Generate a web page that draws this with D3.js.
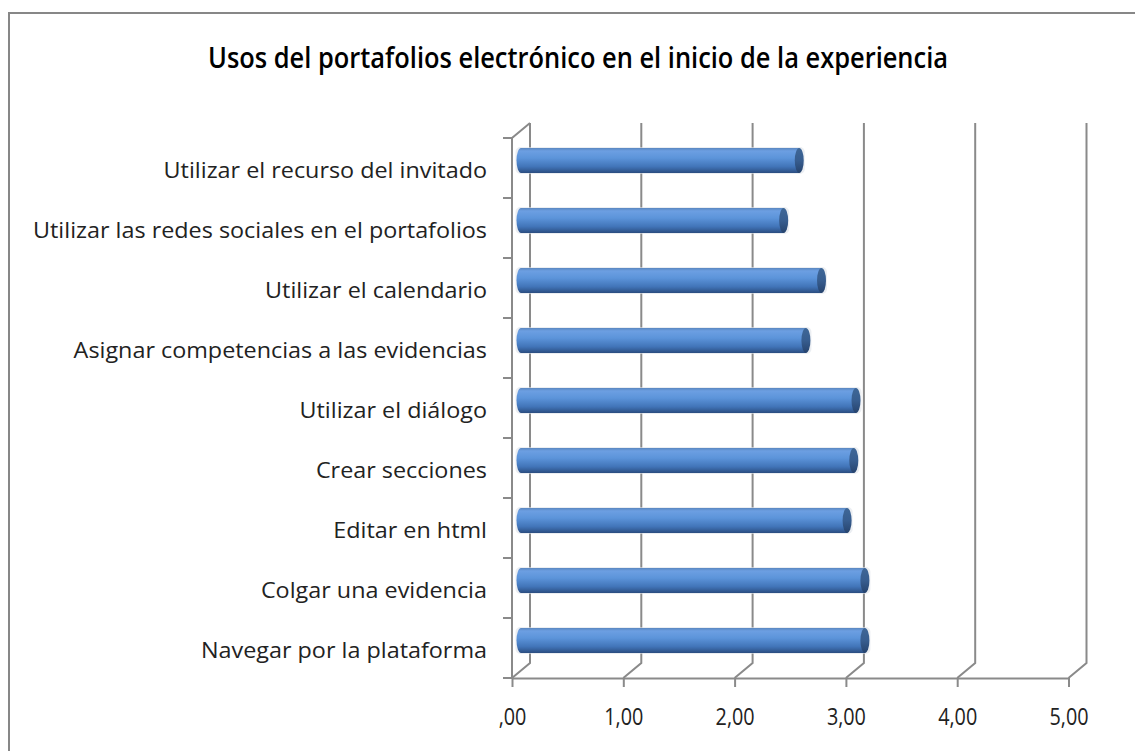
<!DOCTYPE html>
<html><head><meta charset="utf-8">
<script src="https://cdn.jsdelivr.net/npm/d3@7"></script>
<style>body{margin:0;background:#fff;} svg{display:block;}</style>
</head><body>
<svg id="c" width="1135" height="751"></svg>
<script>
const title = "Usos del portafolios electrónico en el inicio de la experiencia";
const categories = [
  "Utilizar el recurso del invitado",
  "Utilizar las redes sociales en el portafolios",
  "Utilizar el calendario",
  "Asignar competencias a las evidencias",
  "Utilizar el diálogo",
  "Crear secciones",
  "Editar en html",
  "Colgar una evidencia",
  "Navegar por la plataforma"
];
const values = [2.50, 2.36, 2.70, 2.56, 3.01, 2.99, 2.93, 3.09, 3.09];
const xTicks = [0, 1, 2, 3, 4, 5];
const xTickLabels = [",00", "1,00", "2,00", "3,00", "4,00", "5,00"];

const svg = d3.select("#c");
const font = "'Open Sans', 'DejaVu Sans', sans-serif";
const gridColor = "#8a8a8a";
const dx = 18, dy = -15;   // depth offset for back wall

// outer border
svg.append("rect").attr("x", 9).attr("y", 13).attr("width", 1200).attr("height", 800)
  .attr("fill", "none").attr("stroke", "#878787").attr("stroke-width", 2);

const x = d3.scaleLinear().domain([0, 5]).range([512, 1068.5]);
const y = d3.scaleBand().domain(categories).range([138, 678]).padding(0);
const yTop = y.range()[0], yBot = y.range()[1];

const defs = svg.append("defs");
const g1 = defs.append("linearGradient").attr("id", "barg").attr("x1", 0).attr("y1", 0).attr("x2", 0).attr("y2", 1);
[[0, "#5a86bf"], [0.12, "#6c9fe2"], [0.4, "#5c94da"], [0.75, "#4174b8"], [1, "#2b4d80"]]
  .forEach(([o, c]) => g1.append("stop").attr("offset", o).attr("stop-color", c));
const g2 = defs.append("linearGradient").attr("id", "capg").attr("x1", 0).attr("y1", 0).attr("x2", 0).attr("y2", 1);
[[0, "#3f6797"], [0.5, "#375d8f"], [1, "#26436d"]]
  .forEach(([o, c]) => g2.append("stop").attr("offset", o).attr("stop-color", c));

// grid lines (back wall + diagonal to floor)
const grid = svg.append("g").attr("fill", "none").attr("stroke", gridColor).attr("stroke-width", 2);
xTicks.forEach(t => {
  grid.append("path").attr("d",
    `M${x(t) + dx},${yTop + dy} L${x(t) + dx},${yBot + dy} L${x(t)},${yBot}`);
});
// left wall front line and top diagonal
grid.append("path").attr("d", `M${x(0) + dx},${yTop + dy} L${x(0)},${yTop} L${x(0)},${yBot}`);
// left wall ticks at band boundaries
const bounds = categories.map(c => y(c)).concat([yBot]);
bounds.forEach(b => grid.append("line").attr("x1", x(0) - 9).attr("x2", x(0)).attr("y1", b).attr("y2", b));

// x axis (floor front edge)
const xAxis = d3.axisBottom(x).tickValues(xTicks).tickSize(9).tickSizeOuter(0)
  .tickFormat((d, i) => xTickLabels[i]);
const ax = svg.append("g").attr("transform", `translate(0,${yBot})`).call(xAxis);
ax.select(".domain").attr("stroke", gridColor).attr("stroke-width", 2);
ax.selectAll(".tick line").attr("stroke", gridColor).attr("stroke-width", 2);
ax.selectAll(".tick text").attr("font-family", font).attr("font-size", 23)
  .attr("fill", "#222").attr("dy", 0).attr("y", 47);

// bars (cylinders)
const bh = 25, rx = 4.5;
const bars = svg.append("g");
categories.forEach((c, i) => {
  const cy = y(c) + y.bandwidth() / 2 + dy / 2;
  const x0 = x(0) + dx / 2, x1 = x(values[i]) + dx / 2;
  const gb = bars.append("g");
  gb.append("rect").attr("x", x0 - rx - 1).attr("y", cy - bh / 2 - 1).attr("width", x1 - x0 + 2 * rx + 2)
    .attr("height", bh + 2).attr("rx", 5).attr("fill", "#dde3ea").attr("opacity", 0.6);
  gb.append("ellipse").attr("cx", x0).attr("cy", cy).attr("rx", rx).attr("ry", bh / 2).attr("fill", "url(#barg)");
  gb.append("rect").attr("x", x0).attr("y", cy - bh / 2).attr("width", x1 - x0).attr("height", bh).attr("fill", "url(#barg)");
  gb.append("ellipse").attr("cx", x1).attr("cy", cy).attr("rx", rx).attr("ry", bh / 2).attr("fill", "url(#capg)");
});

// category labels
const labels = svg.append("g");
const lt = labels.selectAll("text").data(categories).join("text")
  .attr("x", 487).attr("y", d => y(d) + y.bandwidth() / 2 + 10)
  .attr("text-anchor", "end").attr("font-family", font).attr("font-size", 22)
  .attr("fill", "#222").text(d => d);
let maxW = 0;
lt.each(function () { maxW = Math.max(maxW, this.getComputedTextLength()); });
const sc = 454 / maxW;
lt.each(function () {
  const w = this.getComputedTextLength();
  d3.select(this).attr("textLength", w * sc).attr("lengthAdjust", "spacingAndGlyphs");
});

// tick labels width adjust
ax.selectAll(".tick text").each(function () {
  const w = this.getComputedTextLength();
  d3.select(this).attr("textLength", w * 0.86).attr("lengthAdjust", "spacingAndGlyphs");
});

// title
const tt = svg.append("text").attr("x", 578).attr("y", 68).attr("text-anchor", "middle")
  .attr("font-family", font).attr("font-weight", 600).attr("font-size", 28)
  .attr("fill", "#000").text(title);
tt.attr("textLength", 740).attr("lengthAdjust", "spacingAndGlyphs");
</script>
</body></html>
